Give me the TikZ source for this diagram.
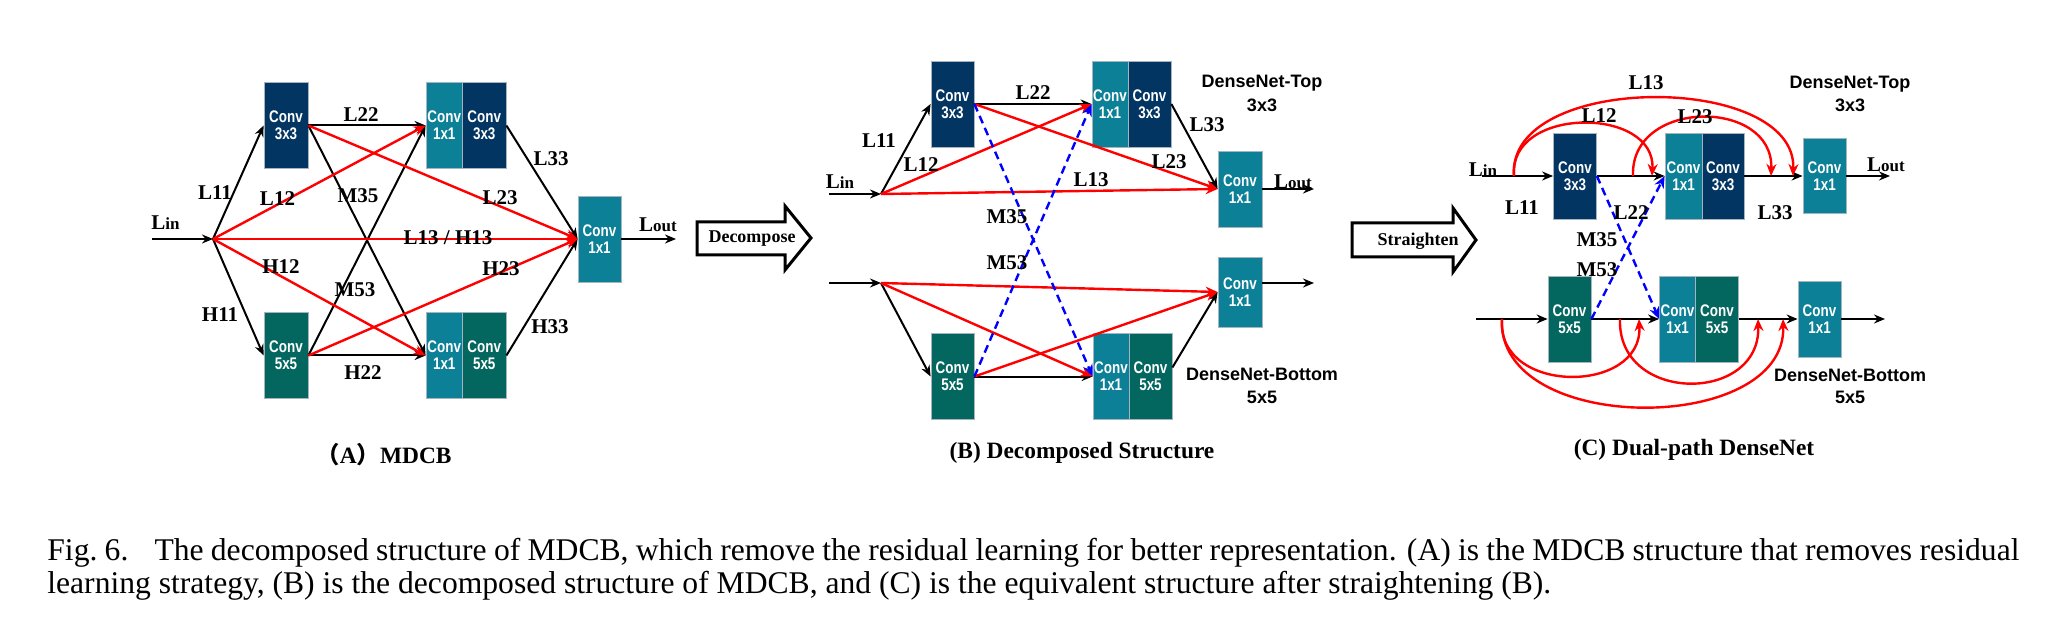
\documentclass[tikz,border=0pt]{standalone}
\usepackage{fontspec}
\setmainfont{Liberation Serif}
\setsansfont{Liberation Sans}
\newfontfamily\condsans{Liberation Sans Bold}[FakeStretch=0.8]
\newfontfamily\cjkfont{Noto Sans CJK SC}
\usetikzlibrary{arrows.meta}
\definecolor{navyc}{RGB}{3,53,99}
\definecolor{tealc}{RGB}{11,128,150}
\definecolor{greenc}{RGB}{4,103,95}
\definecolor{edgec}{RGB}{165,180,190}
\newcommand\Lsub[1]{L{\fontsize{8.5}{10}\selectfont #1}}
\tikzset{
  cb/.style={rectangle, inner sep=0pt, draw=edgec, line width=0.4pt, text=white, align=center,
    font=\condsans\fontsize{8.4}{8.6}\selectfont, minimum height=43pt},
  ab/.style={line width=1pt, draw=black, -{Stealth[length=5.5pt,width=4.5pt]}},
  ar/.style={line width=1.2pt, draw=red, -{Stealth[length=6pt,width=5pt]}},
  ablue/.style={line width=1.2pt, draw=blue, dash pattern=on 4pt off 2.5pt, -{Stealth[length=6pt,width=5pt]}},
  lab/.style={font=\bfseries\fontsize{10.5}{12}\selectfont, inner sep=0pt},
  dn/.style={font=\sffamily\bfseries\fontsize{9}{11}\selectfont, inner sep=0pt},
  subcap/.style={font=\bfseries\fontsize{11.7}{14}\selectfont, inner sep=0pt},
  barrow/.style={draw=black, line width=1.5pt, fill=white, line join=miter},
  figcap/.style={font=\fontsize{15.8}{17}\selectfont, inner sep=0pt, anchor=base west},
}
\begin{document}
\begin{tikzpicture}[x=0.5pt,y=-0.5pt]
\useasboundingbox (0,0) rectangle (2062,636);

% ================= Panel A =================
\node[cb, fill=navyc, minimum width=22pt] (aT) at (286,125.5) {Conv\\3x3};
\node[cb, fill=tealc, minimum width=18.25pt] (aT1) at (444.25,125.5) {Conv\\1x1};
\node[cb, fill=navyc, minimum width=21.75pt] (aT3) at (484.25,125.5) {Conv\\3x3};
\node[cb, fill=greenc, minimum width=22pt] (aB) at (286,355.5) {Conv\\5x5};
\node[cb, fill=tealc, minimum width=18.25pt] (aB1) at (444.25,355.5) {Conv\\1x1};
\node[cb, fill=greenc, minimum width=21.75pt] (aB5) at (484.25,355.5) {Conv\\5x5};
\node[cb, fill=tealc, minimum width=21.5pt] (aO) at (599.5,239) {Conv\\1x1};
\coordinate (aIn) at (152,239);
\coordinate (aS) at (213,239);
\coordinate (aOut) at (676,239);

\draw[ab] (aIn) -- (aS);
\draw[ab] (aS) -- (aT.west);
\draw[ab] (aS) -- (aB.west);
\draw[ab] (aT.east) -- (aT1.west);
\draw[ab] (aT.east) -- (aB1.west);
\draw[ab] (aB.east) -- (aT1.west);
\draw[ab] (aB.east) -- (aB1.west);
\draw[ab] (aT3.east) -- (aO.west);
\draw[ab] (aB5.east) -- (aO.west);
\draw[ab] (aO.east) -- (aOut);
\draw[ar] (aS) -- (aT1.west);
\draw[ar] (aS) -- (aB1.west);
\draw[ar] (aS) -- (aO.west);
\draw[ar] (aT.east) -- (aO.west);
\draw[ar] (aB.east) -- (aO.west);

\node[lab] (aLin) at (165.5,223) {\Lsub{in}};
\node[lab] (aLout) at (658,225) {\Lsub{out}};
\node[lab] (aL22) at (361,115) {L22};
\node[lab] (aL11) at (215,193) {L11};
\node[lab] (aL12) at (277.5,199) {L12};
\node[lab] (aM35) at (358,196) {M35};
\node[lab] (aL23) at (500,198) {L23};
\node[lab] (aL33) at (551,159) {L33};
\node[lab] (aL13) at (448,238) {L13 / H13};
\node[lab] (aH12) at (281,267) {H12};
\node[lab] (aM53) at (355,290) {M53};
\node[lab] (aH23) at (501,269) {H23};
\node[lab] (aH11) at (220,315) {H11};
\node[lab] (aH33) at (550,327) {H33};
\node[lab] (aH22) at (363,373) {H22};
\node[subcap] (capA) at (384,455) {{\cjkfont （}A{\cjkfont ）}MDCB};

% ================= Decompose arrow =================
\draw[barrow] (697,222) -- (785,222) -- (785,206) -- (811,238) -- (785,270) -- (785,255) -- (697,255) -- cycle;
\node[font=\bfseries\fontsize{9}{11}\selectfont, inner sep=0pt] (decomp) at (752,239) {Decompose};

% ================= Panel B =================
\node[cb, fill=navyc, minimum width=21.5pt] (bT) at (952.5,104) {Conv\\3x3};
\node[cb, fill=tealc, minimum width=18pt] (bT1) at (1110,104) {Conv\\1x1};
\node[cb, fill=navyc, minimum width=21.5pt] (bT3) at (1149.5,104) {Conv\\3x3};
\node[cb, fill=tealc, minimum width=22pt, minimum height=38pt] (bTO) at (1240,189) {Conv\\1x1};
\node[cb, fill=greenc, minimum width=21.5pt] (bB) at (952.5,376.5) {Conv\\5x5};
\node[cb, fill=tealc, minimum width=18pt] (bB1) at (1111,376.5) {Conv\\1x1};
\node[cb, fill=greenc, minimum width=21.5pt] (bB5) at (1150.5,376.5) {Conv\\5x5};
\node[cb, fill=tealc, minimum width=22pt, minimum height=35pt] (bBO) at (1240,292) {Conv\\1x1};
\coordinate (bIn1) at (829,194);
\coordinate (bS1) at (881,194);
\coordinate (bOut1) at (1314,189);
\coordinate (bIn2) at (829,283);
\coordinate (bS2) at (881,283);
\coordinate (bOut2) at (1314,283);

\draw[ab] (bIn1) -- (bS1);
\draw[ab] (bS1) -- (bT.west);
\draw[ab] (bT.east) -- (bT1.west);
\draw[ab] (bT3.east) -- (bTO.west);
\draw[ab] (bTO.east) -- (bOut1);
\draw[ab] (bIn2) -- (bS2);
\draw[ab] (bS2) -- (bB.west);
\draw[ab] (bB.east) -- (bB1.west);
\draw[ab] ([yshift=4.5pt]bB5.east) -- (bBO.west);
\draw[ab] ([yshift=4.5pt]bBO.east) -- (bOut2);
\draw[ar] (bS1) -- (bT1.west);
\draw[ar] (bS1) -- (bTO.west);
\draw[ar] (bT.east) -- (bTO.west);
\draw[ar] (bS2) -- (bBO.west);
\draw[ar] (bS2) -- (bB1.west);
\draw[ar] (bB.east) -- (bBO.west);
\draw[ablue] (bT.east) -- (bB1.west);
\draw[ablue] (bB.east) -- (bT1.west);

\node[lab] (bLin) at (840,182) {\Lsub{in}};
\node[lab] (bLout) at (1293,182) {\Lsub{out}};
\node[lab] (bL11) at (879,141) {L11};
\node[lab] (bL12) at (921,165) {L12};
\node[lab] (bL22) at (1033,93) {L22};
\node[lab] (bL33) at (1207,125) {L33};
\node[lab] (bL23) at (1169,162) {L23};
\node[lab] (bL13) at (1091,180) {L13};
\node[lab] (bM35) at (1007,217) {M35};
\node[lab] (bM53) at (1007,263) {M53};
\node[dn] (bDT1) at (1262,83) {DenseNet-Top};
\node[dn] (bDT2) at (1262,105) {3x3};
\node[dn] (bDB1) at (1262,374) {DenseNet-Bottom};
\node[dn] (bDB2) at (1262,397) {5x5};
\node[subcap] (capB) at (1082,453) {(B) Decomposed Structure};

% ================= Straighten arrow =================
\draw[barrow] (1352,223) -- (1453,223) -- (1453,208) -- (1476,240) -- (1453,272) -- (1453,257) -- (1352,257) -- cycle;
\node[font=\bfseries\fontsize{9}{11}\selectfont, inner sep=0pt] (straight) at (1418,241) {Straighten};

% ================= Panel C =================
\node[cb, fill=navyc, minimum width=21.5pt] (cT) at (1575,176) {Conv\\3x3};
\node[cb, fill=tealc, minimum width=18.5pt] (cT1) at (1683.5,176) {Conv\\1x1};
\node[cb, fill=navyc, minimum width=21pt] (cT3) at (1723,176) {Conv\\3x3};
\node[cb, fill=tealc, minimum width=21.5pt, minimum height=37.5pt] (cTO) at (1824.5,176) {Conv\\1x1};
\node[cb, fill=greenc, minimum width=21.5pt] (cB) at (1569.5,319) {Conv\\5x5};
\node[cb, fill=tealc, minimum width=18pt] (cB1) at (1677.5,319) {Conv\\1x1};
\node[cb, fill=greenc, minimum width=21.5pt] (cB5) at (1717,319) {Conv\\5x5};
\node[cb, fill=tealc, minimum width=21.5pt, minimum height=38pt] (cBO) at (1819.5,319) {Conv\\1x1};
\coordinate (cIn1) at (1482,176);
\coordinate (cOut1) at (1890,176);
\coordinate (cIn2) at (1476,319);
\coordinate (cOut2) at (1885,319);
\coordinate (cS1) at (1514,176);
\coordinate (cE12) at (1652,176);
\coordinate (cS23) at (1633,176);
\coordinate (cE23) at (1771,176);
\coordinate (cE13) at (1793,176);
\coordinate (cS2) at (1502,319);
\coordinate (cF1) at (1639,319);
\coordinate (cF2) at (1783,319);
\coordinate (cS3) at (1620,319);
\coordinate (cF3) at (1758,319);

\draw[ab] (cIn1) -- (cT.west);
\draw[ab] (cT.east) -- (cT1.west);
\draw[ab] (cT3.east) -- (cTO.west);
\draw[ab] (cTO.east) -- (cOut1);
\draw[ab] (cIn2) -- (cB.west);
\draw[ab] (cB.east) -- (cB1.west);
\draw[ab] (cB5.east) -- (cBO.west);
\draw[ab] (cBO.east) -- (cOut2);

\draw[ar] (cS1) .. controls (1508,106) and (1656,106) .. (cE12);
\draw[ar] (cS1) .. controls (1506,72) and (1797,72) .. (cE13);
\draw[ar] (cS23) .. controls (1630,98) and (1774,98) .. (cE23);
\draw[ar] (cS2) .. controls (1496,395) and (1643,395) .. (cF1);
\draw[ar] (cS2) .. controls (1496,436) and (1787,436) .. (cF2);
\draw[ar] (cS3) .. controls (1617,404) and (1761,404) .. (cF3);

\draw[ablue] (cT.east) -- (cB1.west);
\draw[ablue] (cB.east) -- (cT1.west);

\node[lab] (cLin) at (1483,170) {\Lsub{in}};
\node[lab] (cLout) at (1886,165) {\Lsub{out}};
\node[lab] (cL13) at (1646,83) {L13};
\node[lab] (cL12) at (1599,116) {L12};
\node[lab] (cL23) at (1695,117) {L23};
\node[lab] (cL11) at (1522,208) {L11};
\node[lab] (cL22) at (1631,213) {L22};
\node[lab] (cL33) at (1775,213) {L33};
\node[lab] (cM35) at (1597,240) {M35};
\node[lab] (cM53) at (1597,270) {M53};
\node[dn] (cDT1) at (1850,84) {DenseNet-Top};
\node[dn] (cDT2) at (1850,105) {3x3};
\node[dn] (cDB1) at (1850,375) {DenseNet-Bottom};
\node[dn] (cDB2) at (1850,397) {5x5};
\node[subcap] (capC) at (1694,450) {(C) Dual-path DenseNet};

% ================= Figure caption =================
\node[figcap] (cap1) at (47,560) {\makebox[986pt][s]{Fig.~6.\hspace{0.5em} The decomposed structure of MDCB, which remove the residual learning for better representation. (A) is the MDCB structure that removes residual}};
\node[figcap] (cap2) at (47,593) {learning strategy, (B) is the decomposed structure of MDCB, and (C) is the equivalent structure after straightening (B).};
\end{tikzpicture}
\end{document}
